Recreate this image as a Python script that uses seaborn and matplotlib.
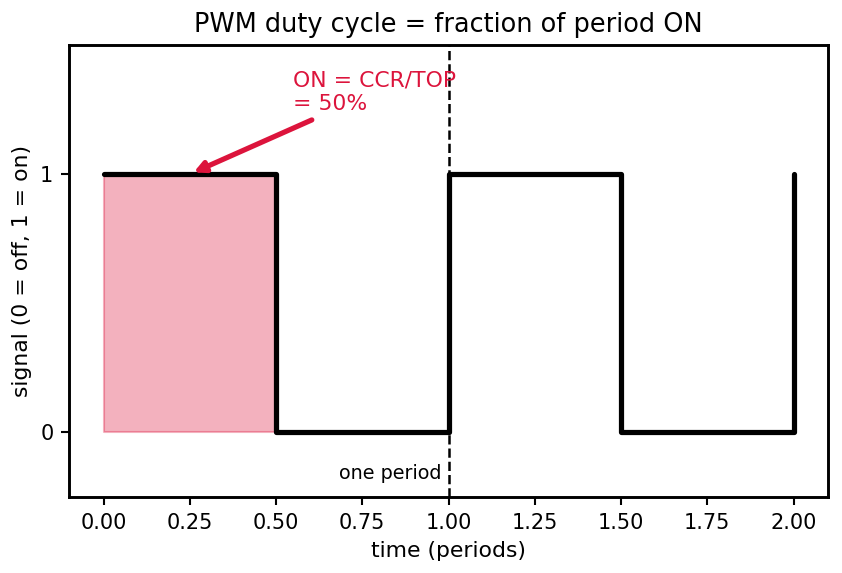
import matplotlib
matplotlib.use("Agg")
import matplotlib.pyplot as plt
import seaborn as sns
import pandas as pd

# PWM signal: step values at each edge (steps-post)
t_edges = [0.0, 0.5, 1.0, 1.5, 2.0]
signal = [1, 0, 1, 0, 1]
on_start, on_end = 0.0, 0.5
period_mark = 1.0
duty_label = "ON = CCR/TOP\n= 50%"
xtick_vals = [0, 0.25, 0.5, 0.75, 1.0, 1.25, 1.5, 1.75, 2.0]

df = pd.DataFrame({"time": t_edges, "signal": signal})

sns.set_style("white")
plt.rcParams["font.family"] = ["DejaVu Sans"]
plt.rcParams["text.color"] = "black"
plt.rcParams["axes.labelcolor"] = "black"
plt.rcParams["xtick.color"] = "black"
plt.rcParams["ytick.color"] = "black"

fig, ax = plt.subplots(figsize=(842 / 150, 573 / 150), dpi=150)

ax.fill_between([on_start, on_end], 0, 1, color="crimson", alpha=0.33)
sns.lineplot(data=df, x="time", y="signal", drawstyle="steps-post",
             color="black", linewidth=2.5, ax=ax)
ax.axvline(period_mark, color="black", linestyle="--", linewidth=1.2)
ax.text(0.98, -0.18, "one period", ha="right", fontsize=9.2)

ax.annotate(duty_label, xy=(0.25, 1.0), xytext=(0.55, 1.25),
            color="crimson", fontsize=10.5,
            arrowprops=dict(arrowstyle="-|>", color="crimson", lw=2.5))

ax.set_xlim(-0.1, 2.1)
ax.set_ylim(-0.25, 1.5)
ax.set_yticks([0, 1])
ax.set_xticks(xtick_vals)
ax.set_xticklabels([f"{v:.2f}" for v in xtick_vals])
ax.tick_params(axis="both", which="both", bottom=True, left=True, length=4, width=1, labelsize=10)
for s in ax.spines.values():
    s.set_color("black")
    s.set_linewidth(1.4)

ax.set_title("PWM duty cycle = fraction of period ON", fontsize=12.3)
ax.set_xlabel("time (periods)", fontsize=10.5)
ax.set_ylabel("signal (0 = off, 1 = on)", fontsize=10.5)

fig.subplots_adjust(left=69 / 842, right=828 / 842, top=1 - 45 / 573, bottom=1 - 497 / 573)
fig.savefig("out.png", dpi=150)
